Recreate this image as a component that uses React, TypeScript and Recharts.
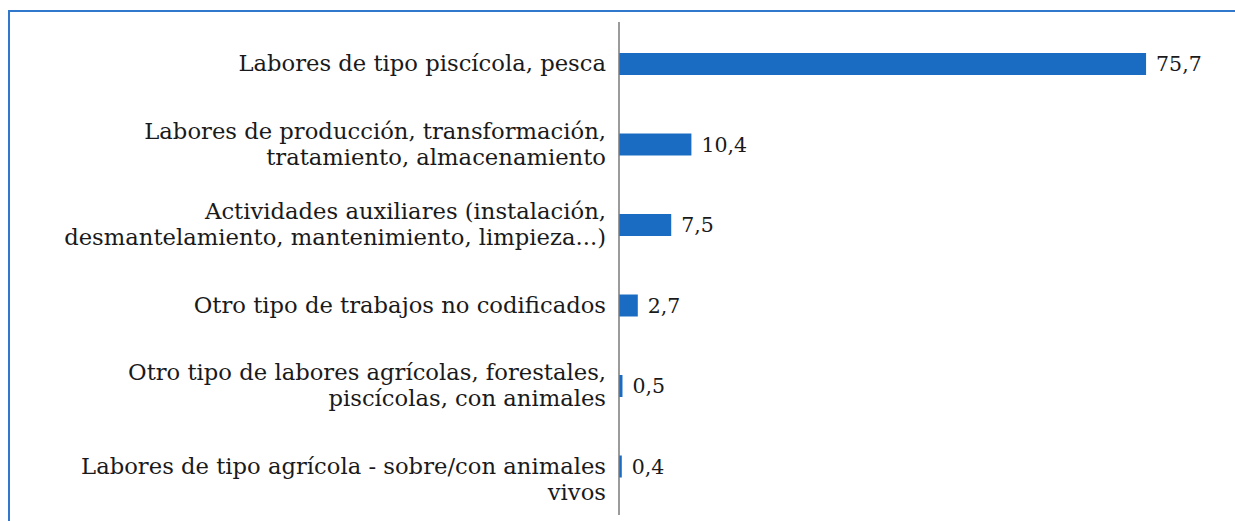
import { Bar, BarChart, LabelList, XAxis, YAxis } from "recharts";

const categories = [
  ["Labores de tipo piscícola, pesca"],
  ["Labores de producción, transformación,", "tratamiento, almacenamiento"],
  ["Actividades auxiliares (instalación,", "desmantelamiento, mantenimiento, limpieza...)"],
  ["Otro tipo de trabajos no codificados"],
  ["Otro tipo de labores agrícolas, forestales,", "piscícolas, con animales"],
  ["Labores de tipo agrícola - sobre/con animales", "vivos"],
];
const values = [75.7, 10.4, 7.5, 2.7, 0.5, 0.4];

const data = categories.map((lines, i) => ({ name: lines.join(" "), lines, value: values[i] }));

const FONT = "'DejaVu Serif', serif";
const LINE_H = 26;

function CategoryTick(props: any) {
  const { x, y, index } = props;
  const lines: string[] = data[index]?.lines ?? [String(props.payload.value)];
  // a wrapped single word hangs below the first line instead of centering
  const orphan = lines.length > 1 && lines[lines.length - 1].split(" ").length === 1;
  const start = orphan ? 0 : -((lines.length - 1) / 2) * LINE_H;
  return (
    <text x={x} y={y} textAnchor="end" fontFamily={FONT} fontSize={22.7} fill="#1a1a1a">
      {lines.map((l, i) => (
        <tspan key={i} x={x} dy={i === 0 ? start + 7 : LINE_H}>
          {l}
        </tspan>
      ))}
    </text>
  );
}

export default function App() {
  return (
    <div style={{ position: "absolute", left: 0, top: 0, width: 1235, height: 521, overflow: "hidden", background: "#fff" }}>
      <div
        style={{
          position: "absolute",
          left: 8,
          top: 10,
          width: 1400,
          height: 700,
          borderLeft: "2px solid #2f78cc",
          borderTop: "2px solid #2f78cc",
        }}
      />
      <BarChart
        width={1235}
        height={521}
        data={data}
        layout="vertical"
        margin={{ top: 22, right: 59, bottom: 6, left: 0 }}
        style={{ position: "absolute", left: 0, top: 0 }}
      >
        <XAxis type="number" domain={[0, 80]} hide />
        <YAxis
          type="category"
          dataKey="name"
          width={619}
          axisLine={{ stroke: "#7a7a7a", strokeWidth: 1.5 }}
          tickLine={false}
          tickSize={6}
          tickMargin={7}
          padding={{ top: 2, bottom: 8 }}
          interval={0}
          tick={<CategoryTick />}
        />
        <Bar dataKey="value" fill="#1a6cc2" barSize={22} isAnimationActive={false}>
          <LabelList
            dataKey="value"
            position="right"
            offset={10}
            formatter={(v: any) => Number(v).toFixed(1).replace(".", ",")}
            style={{ fontFamily: FONT, fontSize: 20.5, fill: "#1a1a1a" }}
          />
        </Bar>
      </BarChart>
    </div>
  );
}
